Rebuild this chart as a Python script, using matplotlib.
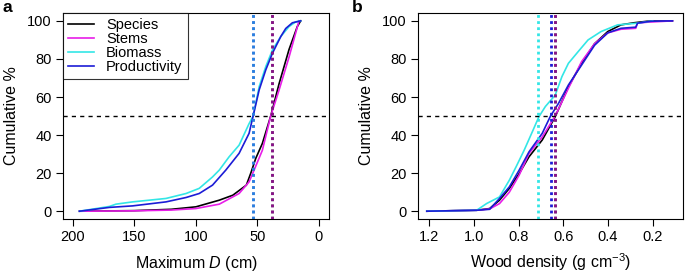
import matplotlib.pyplot as plt

plt.rcParams['font.family'] = ['Liberation Sans', 'DejaVu Sans']
plt.rcParams['mathtext.fontset'] = 'custom'
plt.rcParams['mathtext.rm'] = 'Liberation Sans'
plt.rcParams['mathtext.it'] = 'Liberation Sans:italic'

# panel a: maximum D (cm) vs cumulative %
spp_d = [194.6, 150, 120, 100, 81, 70, 59, 55.4, 51.4, 46, 39.2, 32.4, 24.3, 17.6, 14.9]
spp_pct = [0, 0.3, 1.0, 2.3, 5.8, 8.4, 13.7, 20, 27.7, 35.6, 50, 67, 85, 97, 100]
stem_d = [194.6, 150, 120, 100, 81, 64.9, 56.8, 52.7, 46, 39.2, 32.4, 24.3, 16.2]
stem_pct = [0, 0.2, 0.6, 1.4, 3.7, 9.3, 15.4, 21.6, 32, 50, 63.7, 81, 100]
bio_d = [194.6, 170.3, 165, 151.4, 124.3, 108, 97.3, 86.5, 81, 73, 64.9, 56.8, 53.5,
         48.6, 43.2, 37.8, 31, 24.3, 18.9, 14.9]
bio_pct = [0, 2.5, 3.7, 4.9, 6.7, 9.3, 12, 18, 21.6, 28.6, 34.7, 46, 50,
           65.4, 76, 84.7, 91.8, 97, 99.5, 100]
prod_d = [194.6, 170.3, 151.4, 124.3, 108, 97.3, 86.5, 75.7, 64.9, 56.8, 53.5,
          48.6, 43.2, 37.8, 31, 27, 21.6, 14.9]
prod_pct = [0, 2.0, 2.8, 4.9, 7.2, 9.3, 13.7, 21.6, 30.4, 40.9, 50,
            63.7, 74.3, 83, 91.8, 96, 99, 100]
med_a = {'Species': 38.2, 'Stems': 38.2, 'Biomass': 54.0, 'Productivity': 54.0}

# panel b: wood density (g cm-3) vs cumulative %
spp_wd = [1.21, 0.987, 0.929, 0.885, 0.841, 0.797, 0.753, 0.694, 0.636, 0.577, 0.518,
          0.46, 0.401, 0.342, 0.284, 0.225, 0.112]
spp_wpct = [0, 0.5, 1.4, 5.8, 12, 19.8, 28.6, 37.4, 49.6, 65.4, 77.7,
            88, 94.4, 97.9, 99, 99.8, 100]
stem_wd = [1.21, 0.987, 0.929, 0.885, 0.841, 0.797, 0.753, 0.694, 0.636, 0.577, 0.518,
           0.46, 0.401, 0.342, 0.276, 0.268, 0.225, 0.112]
stem_wpct = [0, 0.5, 1.2, 4, 10, 19, 30.4, 39, 50, 64.6, 78.6,
             88, 93.7, 95.6, 96.1, 98.8, 99.3, 100]
bio_wd = [1.21, 0.987, 0.943, 0.885, 0.841, 0.811, 0.775, 0.738, 0.709, 0.68, 0.636,
          0.606, 0.577, 0.533, 0.489, 0.431, 0.357, 0.268, 0.2]
bio_wpct = [0, 0.5, 4, 7.5, 16.3, 23.3, 32, 41.8, 49.6, 55, 61,
            70.7, 77.7, 83.9, 90, 94.4, 97.9, 98.8, 100]
prod_wd = [1.21, 0.987, 0.929, 0.885, 0.841, 0.797, 0.753, 0.694, 0.657, 0.621, 0.577,
           0.518, 0.46, 0.401, 0.342, 0.276, 0.268, 0.21, 0.112]
prod_wpct = [0, 0.5, 1.0, 6.7, 12.8, 21.6, 31.2, 40.9, 50, 56.7, 66.3,
             76.8, 87.2, 93.7, 96.1, 96.7, 98.8, 99.8, 100]
med_b = {'Species': 0.636, 'Stems': 0.636, 'Biomass': 0.713, 'Productivity': 0.656}

names = ['Species', 'Stems', 'Biomass', 'Productivity']
cols = {'Species': 'black', 'Stems': '#e81ee8', 'Biomass': '#33e6e6', 'Productivity': '#1c1cd6'}
# later median lines drawn semi-transparent so overlapping ones blend
med_order = ['Species', 'Productivity', 'Stems', 'Biomass']
med_alpha = {'Species': 1, 'Productivity': 1, 'Stems': 0.6, 'Biomass': 0.5}
yticks = [0, 20, 40, 60, 80, 100]

fig = plt.figure(figsize=(6.85, 2.74), dpi=100)
axa = fig.add_axes([0.092, 0.2, 0.388, 0.753])
axb = fig.add_axes([0.610, 0.2, 0.387, 0.753])

curves_a = {'Species': (spp_d, spp_pct), 'Stems': (stem_d, stem_pct),
            'Biomass': (bio_d, bio_pct), 'Productivity': (prod_d, prod_pct)}
curves_b = {'Species': (spp_wd, spp_wpct), 'Stems': (stem_wd, stem_wpct),
            'Biomass': (bio_wd, bio_wpct), 'Productivity': (prod_wd, prod_wpct)}

for ax, curves, med in [(axa, curves_a, med_a), (axb, curves_b, med_b)]:
    for n in names:
        x, y = curves[n]
        ax.plot(x, y, color=cols[n], lw=1.2, label=n)
    ax.axhline(50, color='black', ls=(0, (3, 3)), lw=1)
    for n in med_order:
        a = med_alpha[n]
        if ax is axb and n == 'Biomass':
            a = 1
        ax.axvline(med[n], color=cols[n], ls=(0, (1, 1.2)), lw=2, alpha=a)
    ax.set_ylim(-4.2, 104.2)
    ax.set_yticks(yticks)
    ax.set_ylabel('Cumulative %', fontsize=11.5, va='center')
    ax.yaxis.set_label_coords(-0.195, 0.5)
    ax.tick_params(labelsize=10.5, length=5, width=0.8, direction='out', pad=3)
    for s in ax.spines.values():
        s.set_linewidth(0.8)

axa.set_xlim(208, -8)
axa.set_xticks([200, 150, 100, 50, 0])
axa.set_xlabel('Maximum $\\mathit{D}$ (cm)', fontsize=11.5, va='center')
axa.xaxis.set_label_coords(0.5, -0.215)
leg = axa.legend(loc='upper left', fontsize=10.5, frameon=True, fancybox=False,
                 borderaxespad=0, handlelength=1.8, handletextpad=0.8,
                 labelspacing=0.0, borderpad=0.35)
leg.get_frame().set_edgecolor('black')
leg.get_frame().set_linewidth(0.8)

axb.set_xlim(1.25, 0.065)
axb.set_xticks([1.2, 1.0, 0.8, 0.6, 0.4, 0.2])
axb.set_xticklabels(['1.2', '1.0', '0.8', '0.6', '0.4', '0.2'])
axb.set_xlabel('Wood density (g cm$^{\u2212\\mathrm{3}}$)', fontsize=11.5, va='center')
axb.xaxis.set_label_coords(0.5, -0.21)

fig.text(0.003, 0.972, 'a', fontsize=12.5, fontweight='bold', va='center')
fig.text(0.513, 0.972, 'b', fontsize=12.5, fontweight='bold', va='center')

fig.savefig('out.png', dpi=100)
